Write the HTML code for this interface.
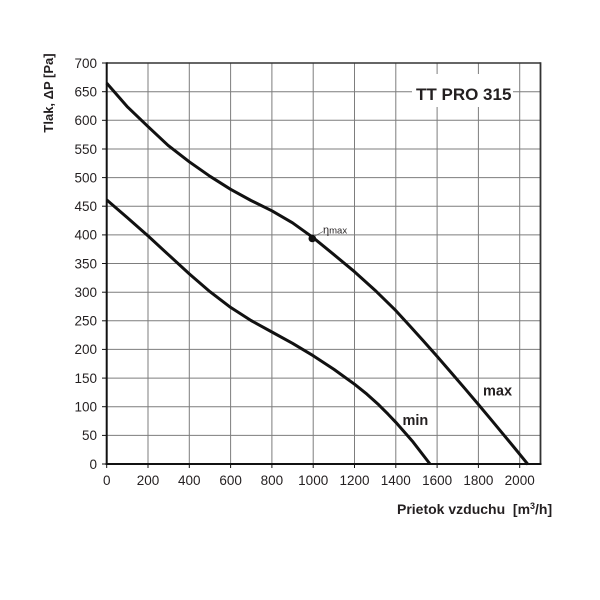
<!DOCTYPE html>
<html><head><meta charset="utf-8"><style>
html,body{margin:0;padding:0;background:#fff;}
svg{display:block;}
text{font-family:"Liberation Sans",sans-serif;fill:#231f20;}
</style></head><body>
<svg width="600" height="600" viewBox="0 0 600 600" xmlns="http://www.w3.org/2000/svg">
<rect width="600" height="600" fill="#fff"/>
<g stroke="#7d7d7d" stroke-width="1">
<line x1="148" y1="63" x2="148" y2="464"/>
<line x1="189.3" y1="63" x2="189.3" y2="464"/>
<line x1="230.6" y1="63" x2="230.6" y2="464"/>
<line x1="271.9" y1="63" x2="271.9" y2="464"/>
<line x1="313.2" y1="63" x2="313.2" y2="464"/>
<line x1="354.5" y1="63" x2="354.5" y2="464"/>
<line x1="395.8" y1="63" x2="395.8" y2="464"/>
<line x1="437.1" y1="63" x2="437.1" y2="464"/>
<line x1="478.4" y1="63" x2="478.4" y2="464"/>
<line x1="519.7" y1="63" x2="519.7" y2="464"/>
<line x1="107" y1="435.4" x2="540.5" y2="435.4"/>
<line x1="107" y1="406.7" x2="540.5" y2="406.7"/>
<line x1="107" y1="378.1" x2="540.5" y2="378.1"/>
<line x1="107" y1="349.4" x2="540.5" y2="349.4"/>
<line x1="107" y1="320.8" x2="540.5" y2="320.8"/>
<line x1="107" y1="292.2" x2="540.5" y2="292.2"/>
<line x1="107" y1="263.5" x2="540.5" y2="263.5"/>
<line x1="107" y1="234.9" x2="540.5" y2="234.9"/>
<line x1="107" y1="206.2" x2="540.5" y2="206.2"/>
<line x1="107" y1="177.6" x2="540.5" y2="177.6"/>
<line x1="107" y1="149" x2="540.5" y2="149"/>
<line x1="107" y1="120.3" x2="540.5" y2="120.3"/>
<line x1="107" y1="91.7" x2="540.5" y2="91.7"/>
</g>
<!-- title box -->
<rect x="412" y="74" width="101" height="33" fill="#fff"/>
<!-- borders -->
<line x1="106.7" y1="63" x2="540.5" y2="63" stroke="#333" stroke-width="1.5"/>
<line x1="540.5" y1="62.3" x2="540.5" y2="464" stroke="#333" stroke-width="1.8"/>
<line x1="106.7" y1="62.3" x2="106.7" y2="465" stroke="#111" stroke-width="2"/>
<line x1="105.7" y1="464" x2="541.5" y2="464" stroke="#111" stroke-width="2"/>
<!-- ticks -->
<g stroke="#111" stroke-width="1">
<line x1="102" y1="464" x2="107" y2="464"/>
<line x1="102" y1="435.4" x2="107" y2="435.4"/>
<line x1="102" y1="406.7" x2="107" y2="406.7"/>
<line x1="102" y1="378.1" x2="107" y2="378.1"/>
<line x1="102" y1="349.4" x2="107" y2="349.4"/>
<line x1="102" y1="320.8" x2="107" y2="320.8"/>
<line x1="102" y1="292.2" x2="107" y2="292.2"/>
<line x1="102" y1="263.5" x2="107" y2="263.5"/>
<line x1="102" y1="234.9" x2="107" y2="234.9"/>
<line x1="102" y1="206.2" x2="107" y2="206.2"/>
<line x1="102" y1="177.6" x2="107" y2="177.6"/>
<line x1="102" y1="149" x2="107" y2="149"/>
<line x1="102" y1="120.3" x2="107" y2="120.3"/>
<line x1="102" y1="91.7" x2="107" y2="91.7"/>
<line x1="102" y1="63" x2="107" y2="63"/>
<line x1="106.7" y1="464" x2="106.7" y2="468"/>
<line x1="148" y1="464" x2="148" y2="468"/>
<line x1="189.3" y1="464" x2="189.3" y2="468"/>
<line x1="230.6" y1="464" x2="230.6" y2="468"/>
<line x1="271.9" y1="464" x2="271.9" y2="468"/>
<line x1="313.2" y1="464" x2="313.2" y2="468"/>
<line x1="354.5" y1="464" x2="354.5" y2="468"/>
<line x1="395.8" y1="464" x2="395.8" y2="468"/>
<line x1="437.1" y1="464" x2="437.1" y2="468"/>
<line x1="478.4" y1="464" x2="478.4" y2="468"/>
<line x1="519.7" y1="464" x2="519.7" y2="468"/>
</g>
<!-- y labels -->
<g font-size="13.5" text-anchor="end">
<text x="97" y="468.8">0</text>
<text x="97" y="440.2">50</text>
<text x="97" y="411.5">100</text>
<text x="97" y="382.9">150</text>
<text x="97" y="354.2">200</text>
<text x="97" y="325.6">250</text>
<text x="97" y="297">300</text>
<text x="97" y="268.3">350</text>
<text x="97" y="239.7">400</text>
<text x="97" y="211">450</text>
<text x="97" y="182.4">500</text>
<text x="97" y="153.8">550</text>
<text x="97" y="125.1">600</text>
<text x="97" y="96.5">650</text>
<text x="97" y="67.8">700</text>
</g>
<!-- x labels -->
<g font-size="13.5" text-anchor="middle">
<text x="106.7" y="485">0</text>
<text x="148" y="485">200</text>
<text x="189.3" y="485">400</text>
<text x="230.6" y="485">600</text>
<text x="271.9" y="485">800</text>
<text x="313.2" y="485">1000</text>
<text x="354.5" y="485">1200</text>
<text x="395.8" y="485">1400</text>
<text x="437.1" y="485">1600</text>
<text x="478.4" y="485">1800</text>
<text x="519.7" y="485">2000</text>
</g>
<!-- curves -->
<g fill="none" stroke="#111" stroke-width="3" stroke-linejoin="round" stroke-linecap="butt">
<polyline points="106.7,83.1 127,106.4 148,126.6 168,145.3 189.3,161.8 210,176.3 230.6,189.3 251,200.5 271.9,210.8 292.5,222.8 313.2,237.7 334,254.7 354.5,271.7 375,290.2 395.8,310.6 410,326.1 423,340.5 437,356.3 451.4,372.9 465,388.7 478,404 490,418.3 501.3,431.9 515,448.5 528,464.4"/>
<polyline points="106.7,199.9 127,217.4 148,235.9 168,254.3 189.3,273.9 210,291.7 230.6,307.4 251,320.5 271.9,332 292.5,343.3 313.2,355.7 334,369.4 354.5,384.2 367,394.2 378,404.1 388,414.1 395.8,422.3 413,441.9 430,464"/>
</g>
<circle cx="312.3" cy="238.5" r="3.8" fill="#111"/>
<line x1="315" y1="236" x2="323" y2="231.5" stroke="#555" stroke-width="0.7"/>
<text x="323" y="233.5" font-size="11">η<tspan font-size="9.5">max</tspan></text>
<!-- labels -->
<text x="416" y="100" font-size="17" font-weight="bold">TT PRO 315</text>
<text x="483" y="395.5" font-size="14.5" font-weight="bold">max</text>
<text x="402.5" y="425" font-size="14.5" font-weight="bold">min</text>
<text x="397" y="514" font-size="14" font-weight="bold" style="white-space:pre">Prietok vzduchu  [m<tspan font-size="9" dy="-5">3</tspan><tspan dy="5">/h]</tspan></text>
<text transform="translate(53,93) rotate(-90)" text-anchor="middle" font-size="13" font-weight="bold">Tlak, ΔP [Pa]</text>
</svg>
</body></html>
